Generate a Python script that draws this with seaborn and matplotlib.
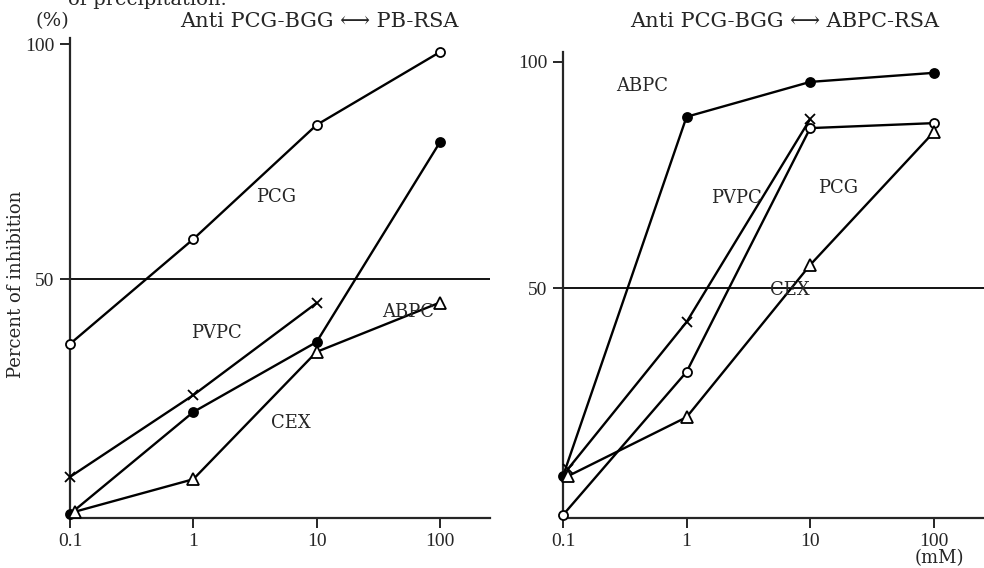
import numpy as np
import pandas as pd
import seaborn as sns
import matplotlib.pyplot as plt

sns.set_style("ticks")
plt.rcParams['font.family'] = ['Liberation Serif', 'DejaVu Sans']

# ---- data ----
conc = [0.1, 1, 10, 100]
conc_shift = [0.11, 1, 10, 100]

left_pcg = [36.2, 58.5, 82.8, 98.3]
left_abpc = [0, 21.7, 36.6, 79.1]
left_pvpc_x = [0.1, 1, 10]
left_pvpc = [7.9, 25.3, 44.9]
left_cex = [0.5, 7.4, 34.5, 45.0]

right_abpc = [8.6, 87.9, 95.6, 97.6]
right_pcg = [0, 31.6, 85.4, 86.5]
right_pvpc_x = [0.11, 1, 10]
right_pvpc = [10.2, 42.6, 87.4]
right_cex = [8.6, 21.6, 55.2, 84.5]

xticks = [0.1, 1, 10, 100]
xticklabels = ["0.1", "1", "10", "100"]
yticks = [50, 100]

SERIF_WIDE = ['DejaVu Serif', 'DejaVu Sans']

fig = plt.figure(figsize=(9.84, 5.68), dpi=100)
axL = fig.add_axes([70/984, 50/568, 420/984, 480/568])
axR = fig.add_axes([563/984, 50/568, 421/984, 466/568])

def series(ax, x, y, marker, filled, ms):
    fc = 'black' if filled else 'white'
    sns.lineplot(x=x, y=y, ax=ax, color='black', linewidth=1.7, sort=False,
                 marker=marker, markersize=ms, markerfacecolor=fc,
                 markeredgecolor='black', markeredgewidth=1.3, clip_on=False,
                 zorder=3)

for ax, (ymin, ymax) in [(axL, (-0.85, 101.3)), (axR, (-0.66, 102.2))]:
    ax.set_xscale('log')
    ax.set_xlim(0.1, 255)
    ax.set_ylim(ymin, ymax)
    ax.axhline(50, color='black', linewidth=1.3, zorder=1)
    ax.set_xticks(xticks)
    ax.set_xticklabels(xticklabels)
    ax.xaxis.set_minor_locator(plt.NullLocator())
    ax.set_yticks(yticks)
    ax.set_yticklabels([str(v) for v in yticks])
    ax.tick_params(axis='both', direction='out', length=7, width=1.4,
                   labelsize=14, pad=4)
    for s in ['top', 'right']:
        ax.spines[s].set_visible(False)
    for s in ['left', 'bottom']:
        ax.spines[s].set_linewidth(1.6)
    ax.set_xlabel('')
    ax.set_ylabel('')

# left panel
series(axL, conc, left_pcg, 'o', False, 6.5)
series(axL, conc, left_abpc, 'o', True, 6.5)
series(axL, left_pvpc_x, left_pvpc, 'x', False, 6.5)
series(axL, conc_shift, left_cex, '^', False, 8.5)

# right panel
series(axR, conc, right_abpc, 'o', True, 6.5)
series(axR, conc, right_pcg, 'o', False, 6.5)
series(axR, right_pvpc_x, right_pvpc, 'x', False, 6.5)
series(axR, conc_shift, right_cex, '^', False, 8.5)

lab = dict(fontsize=13, ha='center', va='center', family=SERIF_WIDE)
axL.text(4.69, 67.4, "PCG", **lab)
axL.text(55.0, 43.0, "ABPC", **lab)
axL.text(1.53, 38.5, "PVPC", **lab)
axL.text(6.2, 19.4, "CEX", **lab)

axR.text(0.435, 94.7, "ABPC", **lab)
axR.text(2.55, 70.0, "PVPC", **lab)
axR.text(16.7, 72.2, "PCG", **lab)
axR.text(6.84, 49.7, "CEX", **lab)

tit = dict(fontsize=15, ha='center', va='center', family=SERIF_WIDE)
fig.text(0.325, 0.963, "Anti PCG-BGG \u27f7 PB-RSA", **tit)
fig.text(0.797, 0.963, "Anti PCG-BGG \u27f7 ABPC-RSA", **tit)
fig.text(0.053, 0.963, "(%)", fontsize=14, ha='center', va='center', family=SERIF_WIDE)
fig.text(0.150, 1.0, "of precipitation.", fontsize=14, ha='center', va='center', family=SERIF_WIDE)
fig.text(0.016, 0.50, "Percent of inhibition", fontsize=13, rotation=90,
         ha='center', va='center', family=SERIF_WIDE)
fig.text(0.955, 0.017, "(mM)", fontsize=13, ha='center', va='center',
         family=SERIF_WIDE)

fig.savefig("out.png", dpi=100)
